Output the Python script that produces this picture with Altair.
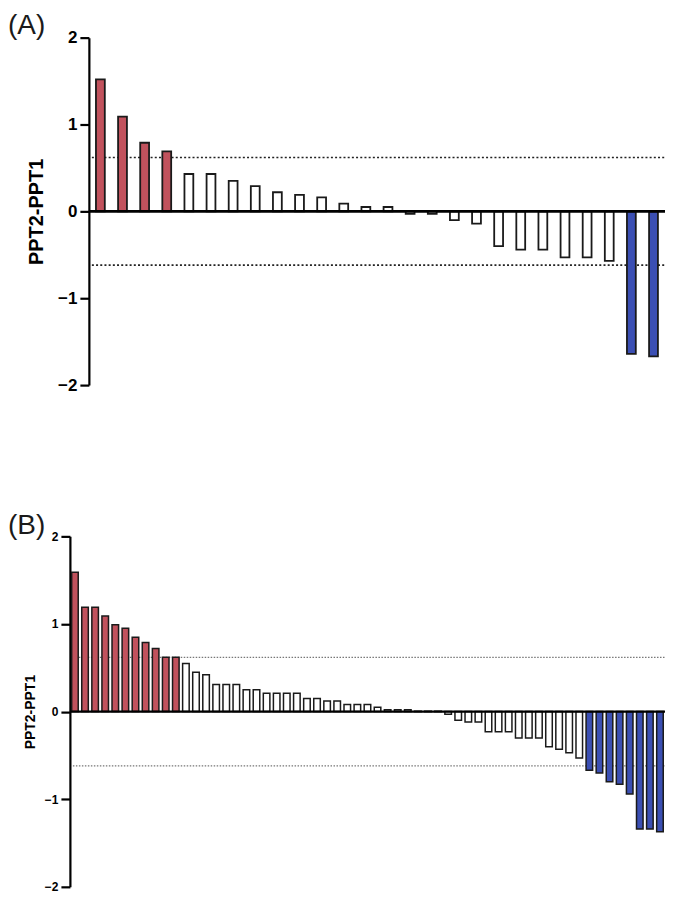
import altair as alt
import pandas as pd

FONT = "Liberation Sans, Arial, Helvetica, sans-serif"

# ---------------- data ----------------
A_values = [1.52, 1.09, 0.79, 0.69,
            0.43, 0.43, 0.35, 0.29, 0.22, 0.19, 0.16, 0.09, 0.05, 0.05,
            -0.03, -0.03, -0.10, -0.14, -0.40, -0.44, -0.44, -0.53, -0.53, -0.57,
            -1.64, -1.67]
A_groups = ["up"] * 4 + ["ns"] * 20 + ["down"] * 2

B_values = [1.59, 1.19, 1.19, 1.09, 0.99, 0.95, 0.85, 0.79, 0.72, 0.62, 0.62,
            0.55, 0.45, 0.42, 0.31, 0.31, 0.31, 0.25, 0.25, 0.21, 0.21, 0.21, 0.21,
            0.15, 0.15, 0.12, 0.12, 0.08, 0.08, 0.08, 0.05, 0.02, 0.02, 0.02,
            0.005, 0.005, 0.005,
            -0.03, -0.10, -0.12, -0.12, -0.23, -0.23, -0.23, -0.30, -0.30, -0.30,
            -0.40, -0.43, -0.47, -0.53,
            -0.67, -0.70, -0.80, -0.83, -0.94, -1.34, -1.34, -1.37]
B_groups = ["up"] * 11 + ["ns"] * 40 + ["down"] * 8

thresholds = [0.62, -0.62]
y_ticks = [-2, -1, 0, 1, 2]
group_domain = ["up", "ns", "down"]
group_colors = ["#c1525d", "#ffffff", "#3b4fb3"]
y_title = "PPT2-PPT1"

W = 596  # common plot width of both panels


def panel(values, groups, label, height, x0, x1, p_inner, p_outer,
          label_size, title_size, extent, title_pad, bar_stroke,
          dot_color, dot_dash, dot_width, zero_width, lab_x, lab_y):
    df = pd.DataFrame({"idx": list(range(len(values))), "value": values, "group": groups})
    yscale = alt.Scale(domain=[-2, 2], nice=False, zero=False)

    dotted = alt.Chart(pd.DataFrame({"value": thresholds})).mark_rule(
        color=dot_color, strokeDash=dot_dash, strokeWidth=dot_width
    ).encode(x=alt.value(x0 + 3), x2=alt.value(x1), y=alt.Y("value:Q", scale=yscale))

    bars = alt.Chart(df).mark_bar(stroke="#1a1a1a", strokeWidth=bar_stroke).encode(
        x=alt.X("idx:O", axis=None, sort=None,
                scale=alt.Scale(range=[x0, x1], paddingInner=p_inner, paddingOuter=p_outer)),
        y=alt.Y("value:Q", scale=yscale,
                axis=alt.Axis(values=y_ticks, format="d", title=y_title, offset=-x0,
                              grid=False, domainColor="#000", domainWidth=2.2,
                              tickColor="#000", tickWidth=2.2, tickSize=9,
                              labelPadding=3, labelFont=FONT, labelFontSize=label_size,
                              labelFontWeight="bold", labelColor="#000",
                              titleFont=FONT, titleFontSize=title_size,
                              titleFontWeight="bold", titleColor="#000",
                              titlePadding=title_pad, minExtent=extent, maxExtent=extent)),
        fill=alt.Fill("group:N", scale=alt.Scale(domain=group_domain, range=group_colors),
                      legend=None),
    )

    zero = alt.Chart(pd.DataFrame({"value": [0]})).mark_rule(
        color="#000", strokeWidth=zero_width
    ).encode(x=alt.value(x0), x2=alt.value(x1), y=alt.Y("value:Q", scale=yscale))

    lab = alt.Chart(pd.DataFrame({"lab": [label]})).mark_text(
        align="left", baseline="alphabetic", font=FONT, fontSize=28, color="#1a1a1a"
    ).encode(x=alt.value(lab_x), y=alt.value(lab_y), text="lab:N")

    return alt.layer(dotted, bars, zero, lab).properties(width=W, height=height)


chartA = panel(A_values, A_groups, "(A)", 348, 19, 596, 0.6, 0.32,
               17, 20, 30, 12, 1.8, "#222222", [2, 2.2], 1.7, 2.6, -62, -4)
chartB = panel(B_values, B_groups, "(B)", 351, 0, 596, 0.35, 0.175,
               12, 14, 22, 10, 1.5, "#777777", [1.5, 1.5], 1.3, 2.2, -62, -2)

chart = alt.concat(chartA, chartB, columns=1, spacing=119.5).properties(
    padding={"left": 0, "top": 3, "right": 0, "bottom": 0}
).configure_view(stroke=None)

chart.save("out.html", embed_options={"renderer": "svg", "actions": False})
